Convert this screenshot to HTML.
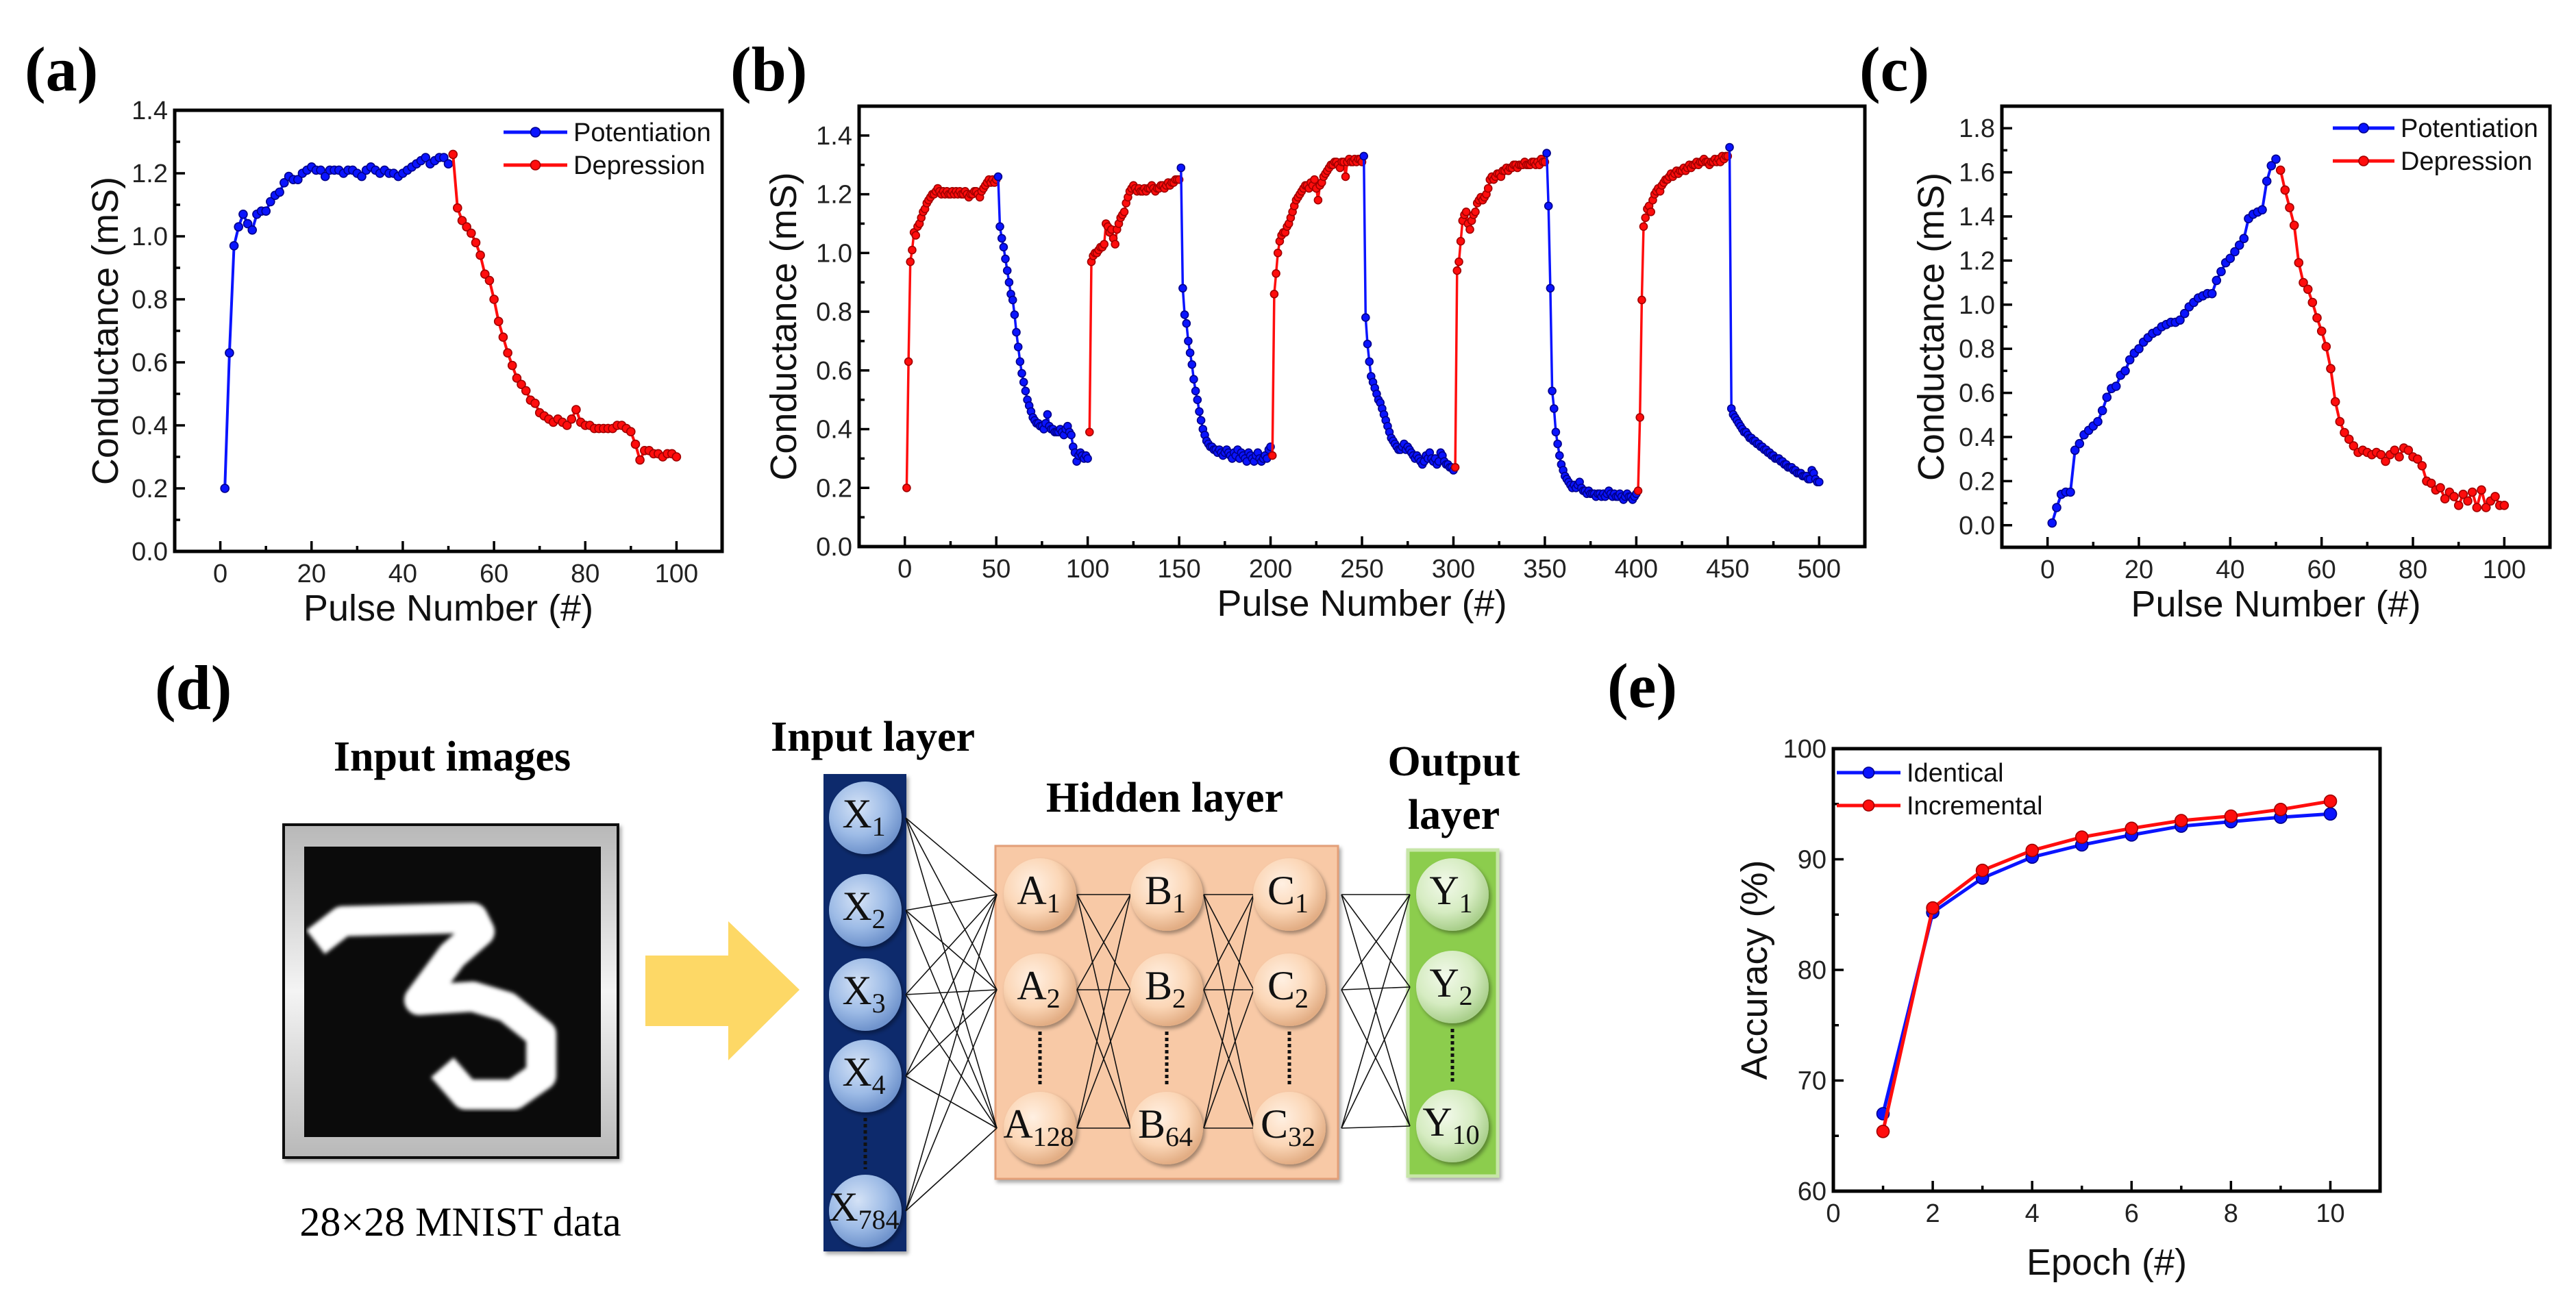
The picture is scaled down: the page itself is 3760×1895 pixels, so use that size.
<!DOCTYPE html>
<html><head><meta charset="utf-8"><title>Conductance and accuracy figure</title>
<style>
html,body{margin:0;padding:0;background:#fff;}
svg{display:block;}
</style></head>
<body>
<svg id="fig" xmlns="http://www.w3.org/2000/svg" width="3760" height="1895" viewBox="0 0 3760 1895">
<defs>
  <radialGradient id="gX" cx="40%" cy="35%" r="65%"><stop offset="0" stop-color="#d4e2f6"/><stop offset="0.6" stop-color="#9dbbe6"/><stop offset="1" stop-color="#6f93cc"/></radialGradient>
  <radialGradient id="gA" cx="40%" cy="35%" r="65%"><stop offset="0" stop-color="#fff0e2"/><stop offset="0.6" stop-color="#fbd6b6"/><stop offset="1" stop-color="#e2ad84"/></radialGradient>
  <radialGradient id="gY" cx="40%" cy="35%" r="65%"><stop offset="0" stop-color="#f2f9ea"/><stop offset="0.6" stop-color="#d6ecc2"/><stop offset="1" stop-color="#a9cf8b"/></radialGradient>
  <filter id="sh" x="-20%" y="-20%" width="150%" height="150%"><feDropShadow dx="3" dy="4" stdDeviation="3" flood-color="#000" flood-opacity="0.35"/></filter>
  <filter id="bl"><feGaussianBlur stdDeviation="3"/></filter>
  <linearGradient id="gFrame" x1="0" y1="0" x2="0" y2="1"><stop offset="0" stop-color="#b8b8b8"/><stop offset="0.5" stop-color="#f4f4f4"/><stop offset="1" stop-color="#b8b8b8"/></linearGradient>
</defs>
<rect x="0" y="0" width="3760" height="1895" fill="#fff"/>

<g font-family="Liberation Serif, serif" font-weight="bold" font-size="92" fill="#000">
  <text x="36" y="132">(a)</text>
  <text x="1066" y="132">(b)</text>
  <text x="2714" y="132">(c)</text>
  <text x="226" y="1035">(d)</text>
  <text x="2346" y="1032">(e)</text>
</g>

<g id="panelD">
  <text x="660" y="1125" text-anchor="middle" font-family="Liberation Serif, serif" font-weight="bold" font-size="62">Input images</text>
  <g>
    <rect x="414" y="1204" width="488" height="486" fill="url(#gFrame)" stroke="#111" stroke-width="4" filter="url(#sh)"/>
    <rect x="444" y="1236" width="433" height="424" fill="#0b0b0b"/>
    <g filter="url(#bl)">
      <path d="M478,1362 L500,1345 L690,1340 L700,1360 L660,1395 L612,1460 L690,1455 L740,1470 L790,1510 L790,1570 L750,1598 L680,1598 L660,1575" fill="none" stroke="#fff" stroke-width="44" stroke-linejoin="round" stroke-linecap="square"/>
    </g>
  </g>
  <text x="672" y="1804" text-anchor="middle" font-family="Liberation Serif, serif" font-size="60">28×28 MNIST data</text>
  <polygon points="942,1395 1063,1395 1063,1345 1167,1445 1063,1548 1063,1498 942,1498" fill="#fdd866"/>

  <text x="1274" y="1096" text-anchor="middle" font-family="Liberation Serif, serif" font-weight="bold" font-size="62">Input layer</text>
  <text x="1700" y="1185" text-anchor="middle" font-family="Liberation Serif, serif" font-weight="bold" font-size="62">Hidden layer</text>
  <text x="2122" y="1132" text-anchor="middle" font-family="Liberation Serif, serif" font-weight="bold" font-size="62">Output</text>
  <text x="2122" y="1210" text-anchor="middle" font-family="Liberation Serif, serif" font-weight="bold" font-size="62">layer</text>

  <rect x="1202" y="1130" width="121" height="697" fill="#0c2a6c" filter="url(#sh)"/>
  <rect x="1453" y="1235" width="500" height="486" fill="#f8c9a6" stroke="#e39f78" stroke-width="3" filter="url(#sh)"/>
  <rect x="2055" y="1241" width="131" height="476" fill="#8ccd4e" stroke="#c7e6a8" stroke-width="5" filter="url(#sh)"/>
  <g id="links" stroke="#111" stroke-width="1.6"></g>
  <g id="nodes"></g>
</g>

<g id="charts"></g>
</svg>

<script>
const aPotX = Array.from({length:50},(_,i)=>i+1);
const aPot = [0.20,0.63,0.97,1.03,1.07,1.04,1.02,1.07,1.08,1.08,1.11,1.13,1.14,1.17,1.19,1.18,1.18,1.20,1.21,1.22,1.21,1.21,1.19,1.21,1.21,1.21,1.20,1.21,1.21,1.20,1.19,1.21,1.22,1.21,1.20,1.21,1.20,1.20,1.19,1.20,1.21,1.22,1.23,1.24,1.25,1.23,1.24,1.25,1.25,1.23];
const aDepX = Array.from({length:50},(_,i)=>i+51);
const aDep = [1.26,1.09,1.05,1.03,1.01,0.98,0.94,0.88,0.86,0.80,0.73,0.68,0.63,0.59,0.55,0.53,0.51,0.48,0.47,0.44,0.43,0.42,0.41,0.42,0.41,0.40,0.42,0.45,0.41,0.40,0.40,0.39,0.39,0.39,0.39,0.39,0.40,0.40,0.39,0.38,0.34,0.29,0.32,0.32,0.31,0.31,0.30,0.31,0.31,0.30];

const cPot = [0.01,0.08,0.14,0.15,0.15,0.34,0.37,0.41,0.43,0.45,0.47,0.52,0.58,0.62,0.63,0.68,0.70,0.75,0.78,0.80,0.83,0.85,0.87,0.88,0.90,0.91,0.92,0.92,0.93,0.96,0.99,1.01,1.03,1.04,1.05,1.05,1.11,1.15,1.19,1.21,1.24,1.27,1.30,1.39,1.41,1.42,1.43,1.56,1.63,1.66];
const cDep = [1.61,1.52,1.44,1.36,1.19,1.10,1.07,1.01,0.94,0.88,0.81,0.71,0.56,0.47,0.42,0.39,0.36,0.33,0.34,0.33,0.32,0.33,0.32,0.29,0.32,0.34,0.31,0.35,0.34,0.31,0.30,0.27,0.20,0.19,0.16,0.17,0.12,0.15,0.13,0.09,0.14,0.11,0.15,0.08,0.16,0.08,0.11,0.13,0.09,0.09];

const bSeg0 = [0.20,0.63,0.97,1.01,1.07,1.06,1.09,1.10,1.12,1.14,1.15,1.17,1.18,1.19,1.20,1.20,1.21,1.22,1.21,1.20,1.21,1.20,1.21,1.20,1.20,1.21,1.20,1.21,1.20,1.21,1.20,1.20,1.21,1.20,1.19,1.20,1.20,1.21,1.21,1.20,1.19,1.21,1.22,1.23,1.24,1.25,1.24,1.25,1.24,1.25];
const bSeg1 = [1.26,1.09,1.05,1.02,0.98,0.94,0.90,0.86,0.84,0.79,0.73,0.68,0.63,0.59,0.56,0.53,0.50,0.48,0.46,0.44,0.43,0.42,0.42,0.41,0.41,0.40,0.42,0.45,0.41,0.40,0.40,0.39,0.39,0.39,0.40,0.39,0.38,0.40,0.41,0.39,0.38,0.34,0.32,0.29,0.31,0.32,0.31,0.30,0.31,0.30];
const bSeg2 = [0.39,0.97,0.99,1.00,1.00,1.01,1.02,1.02,1.03,1.10,1.09,1.07,1.08,1.05,1.03,1.08,1.10,1.12,1.13,1.14,1.17,1.19,1.21,1.22,1.23,1.22,1.21,1.22,1.21,1.21,1.22,1.21,1.22,1.22,1.23,1.22,1.21,1.22,1.22,1.23,1.23,1.22,1.23,1.24,1.23,1.24,1.24,1.25,1.25,1.25];
const bSeg3 = [1.29,0.88,0.79,0.76,0.70,0.66,0.62,0.57,0.53,0.50,0.46,0.43,0.40,0.38,0.36,0.35,0.34,0.34,0.33,0.33,0.32,0.33,0.32,0.31,0.32,0.33,0.32,0.31,0.30,0.32,0.31,0.33,0.30,0.32,0.31,0.30,0.29,0.32,0.31,0.30,0.29,0.31,0.32,0.30,0.29,0.30,0.31,0.30,0.33,0.34];
const bSeg4 = [0.31,0.86,0.93,1.00,1.04,1.06,1.07,1.07,1.09,1.10,1.12,1.14,1.16,1.18,1.19,1.20,1.21,1.22,1.23,1.23,1.22,1.24,1.23,1.25,1.22,1.18,1.23,1.24,1.26,1.27,1.28,1.29,1.30,1.30,1.31,1.31,1.30,1.29,1.31,1.31,1.26,1.31,1.32,1.31,1.31,1.32,1.31,1.32,1.32,1.31];
const bSeg5 = [1.33,0.78,0.69,0.63,0.58,0.56,0.54,0.52,0.50,0.49,0.47,0.45,0.43,0.41,0.39,0.37,0.36,0.35,0.34,0.33,0.33,0.34,0.35,0.33,0.34,0.33,0.32,0.31,0.30,0.31,0.30,0.29,0.28,0.29,0.31,0.30,0.32,0.30,0.29,0.30,0.28,0.29,0.32,0.31,0.29,0.28,0.28,0.27,0.27,0.26];
const bSeg6 = [0.27,0.94,0.97,1.04,1.11,1.13,1.14,1.10,1.08,1.11,1.13,1.14,1.17,1.18,1.19,1.18,1.19,1.20,1.22,1.25,1.26,1.25,1.26,1.27,1.27,1.26,1.28,1.28,1.29,1.28,1.29,1.29,1.30,1.30,1.29,1.30,1.30,1.30,1.31,1.30,1.30,1.30,1.31,1.31,1.30,1.31,1.30,1.32,1.31,1.31];
const bSeg7 = [1.34,1.16,0.88,0.53,0.47,0.39,0.35,0.31,0.28,0.26,0.24,0.23,0.22,0.21,0.20,0.21,0.20,0.21,0.22,0.20,0.19,0.19,0.18,0.19,0.18,0.18,0.18,0.17,0.18,0.18,0.17,0.18,0.17,0.18,0.19,0.18,0.17,0.18,0.17,0.17,0.18,0.17,0.16,0.17,0.18,0.17,0.17,0.16,0.17,0.18];
const bSeg8 = [0.19,0.44,0.84,1.09,1.12,1.15,1.16,1.14,1.18,1.20,1.21,1.22,1.21,1.23,1.24,1.25,1.25,1.26,1.27,1.26,1.27,1.28,1.27,1.28,1.28,1.29,1.28,1.29,1.30,1.29,1.30,1.30,1.31,1.30,1.31,1.31,1.32,1.31,1.31,1.30,1.31,1.31,1.32,1.31,1.32,1.31,1.33,1.32,1.33,1.33];
const bSeg9 = [1.36,0.47,0.45,0.44,0.43,0.42,0.41,0.40,0.39,0.39,0.38,0.37,0.37,0.36,0.36,0.35,0.35,0.34,0.34,0.33,0.33,0.32,0.32,0.31,0.31,0.30,0.30,0.30,0.29,0.29,0.28,0.28,0.27,0.27,0.27,0.26,0.26,0.25,0.25,0.25,0.24,0.24,0.24,0.23,0.23,0.26,0.25,0.23,0.22,0.22];

const eEpochs = [1,2,3,4,5,6,7,8,9,10];
const eIdentical = [67.0,85.2,88.3,90.2,91.3,92.2,93.0,93.4,93.8,94.1];
const eIncremental = [65.4,85.6,89.0,90.8,92.0,92.8,93.5,93.9,94.5,95.25];

const condTicks = [0,0.2,0.4,0.6,0.8,1.0,1.2,1.4];
const condTicksC = [0,0.2,0.4,0.6,0.8,1.0,1.2,1.4,1.6,1.8];
const pulseTicks100 = [0,20,40,60,80,100];
const pulseTicks500 = [0,50,100,150,200,250,300,350,400,450,500];
const accTicks = [60,70,80,90,100];
const epochTicks = [0,2,4,6,8,10];

const NS='http://www.w3.org/2000/svg';
const root=document.getElementById('charts');
function mk(tag,parent){const e=document.createElementNS(NS,tag);parent.appendChild(e);return e;}

function panel(p){
  const g=mk('g',root);
  
  
  const sx=v=>p.L+(v-p.x0)/(p.x1-p.x0)*(p.R-p.L);
  const sy=v=>p.B-(v-p.y0)/(p.y1-p.y0)*(p.B-p.T);
  const box=mk('rect',g);
  box.setAttribute('x',p.L);box.setAttribute('y',p.T);box.setAttribute('width',p.R-p.L);box.setAttribute('height',p.B-p.T);
  box.setAttribute('fill','none');box.setAttribute('stroke','#000');box.setAttribute('stroke-width','5');
  
  
  const tk=mk('g',g);
  tk.setAttribute('stroke','#000');tk.setAttribute('stroke-width','3.5');
  
  
  const addLine=(x1,y1,x2,y2)=>{const l=mk('line',tk);l.setAttribute('x1',x1);l.setAttribute('y1',y1);l.setAttribute('x2',x2);l.setAttribute('y2',y2);return l;};
  p.xt.forEach((v,i)=>{
    addLine(sx(v),p.B,sx(v),p.B-15);
    const t=mk('text',g);
    t.setAttribute('x',sx(v));t.setAttribute('y',p.B+45);t.setAttribute('text-anchor','middle');
    t.setAttribute('font-family','Liberation Sans, Arial, sans-serif');t.setAttribute('font-size','38');t.setAttribute('fill','#222');
    
    
    t.textContent=p.xfmt(v);
    if(i<p.xt.length-1){const m=(v+p.xt[i+1])/2;addLine(sx(m),p.B,sx(m),p.B-8);}
  });
  p.yt.forEach((v,i)=>{
    addLine(p.L,sy(v),p.L+15,sy(v));
    const t=mk('text',g);
    t.setAttribute('x',p.L-10);t.setAttribute('y',sy(v)+13);t.setAttribute('text-anchor','end');
    t.setAttribute('font-family','Liberation Sans, Arial, sans-serif');t.setAttribute('font-size','38');t.setAttribute('fill','#222');
    
    
    t.textContent=p.yfmt(v);
    if(i<p.yt.length-1){const m=(v+p.yt[i+1])/2;addLine(p.L,sy(m),p.L+8,sy(m));}
  });
  const xt=mk('text',g);
  xt.setAttribute('x',(p.L+p.R)/2);xt.setAttribute('y',p.B+p.xtOff);xt.setAttribute('text-anchor','middle');
  xt.setAttribute('font-family','Liberation Sans, Arial, sans-serif');xt.setAttribute('font-size','54');xt.setAttribute('fill','#111');
  
  
  xt.textContent=p.xtitle;
  const yt=mk('text',g);
  const cx=p.L-p.ytOff, cy=(p.T+p.B)/2;
  yt.setAttribute('x',cx);yt.setAttribute('y',cy+19);yt.setAttribute('text-anchor','middle');
  yt.setAttribute('transform','rotate(-90 '+cx+' '+cy+')');
  yt.setAttribute('font-family','Liberation Sans, Arial, sans-serif');yt.setAttribute('font-size','54');yt.setAttribute('fill','#111');
  
  
  yt.textContent=p.ytitle;
  return {g,sx,sy};
}

function series(ax,xs,ys,color,dark,name,r,lw){
  const sg=mk('g',ax.g);
  
  
  const pl=mk('polyline',sg);
  pl.setAttribute('points',xs.map((x,i)=>ax.sx(x).toFixed(1)+','+ax.sy(ys[i]).toFixed(1)).join(' '));
  pl.setAttribute('fill','none');pl.setAttribute('stroke',color);pl.setAttribute('stroke-width',lw);pl.setAttribute('stroke-linejoin','round');
  
  
  xs.forEach((x,i)=>{
    const c=mk('circle',sg);
    c.setAttribute('cx',ax.sx(x).toFixed(1));c.setAttribute('cy',ax.sy(ys[i]).toFixed(1));c.setAttribute('r',r);
    c.setAttribute('fill',color);c.setAttribute('stroke',dark);c.setAttribute('stroke-width','1.6');
    
    
  });
}

function legend(ax,x1,x2,y,color,dark,label,r){
  const lg=mk('g',ax.g);
  
  
  const l=mk('line',lg);
  l.setAttribute('x1',x1);l.setAttribute('x2',x2);l.setAttribute('y1',y);l.setAttribute('y2',y);
  l.setAttribute('stroke',color);l.setAttribute('stroke-width','5');
  const c=mk('circle',lg);
  c.setAttribute('cx',(x1+x2)/2);c.setAttribute('cy',y);c.setAttribute('r',r);c.setAttribute('fill',color);c.setAttribute('stroke',dark);c.setAttribute('stroke-width','1.6');
  const t=mk('text',lg);
  t.setAttribute('x',x2+9);t.setAttribute('y',y+13);
  t.setAttribute('font-family','Liberation Sans, Arial, sans-serif');t.setAttribute('font-size','38');t.setAttribute('fill','#111');
  t.textContent=label;
}

const f1=v=>v.toFixed(1), f0=v=>String(v);
const BLUE='#0a14ff', BDARK='#00008a', RED='#ff0d0d', RDARK='#a00000';

const axA=panel({name:'panel-a-chart',L:255,R:1054,T:161,B:805,x0:-10,x1:110,y0:0,y1:1.4,xt:pulseTicks100,yt:condTicks,xfmt:f0,yfmt:f1,xtitle:'Pulse Number (#)',ytitle:'Conductance (mS)',xtOff:101,ytOff:102});
series(axA,aPotX,aPot,BLUE,BDARK,'a-potentiation',6,4);
series(axA,aDepX,aDep,RED,RDARK,'a-depression',6,4);
legend(axA,735,828,193,BLUE,BDARK,'Potentiation',7);
legend(axA,735,828,241,RED,RDARK,'Depression',7);

const axB=panel({name:'panel-b-chart',L:1254,R:2722,T:155,B:798,x0:-25,x1:525,y0:0,y1:1.5,xt:pulseTicks500,yt:condTicks,xfmt:f0,yfmt:f1,xtitle:'Pulse Number (#)',ytitle:'Conductance (mS)',xtOff:101,ytOff:111});
const bSegs=[bSeg0,bSeg1,bSeg2,bSeg3,bSeg4,bSeg5,bSeg6,bSeg7,bSeg8,bSeg9];
bSegs.forEach((seg,k)=>{
  const xs=seg.map((_,i)=>k*50+i+1);
  if(k%2===0) series(axB,xs,seg,RED,RDARK,'b-potentiation-'+(k/2+1),5.5,3.5);
  else series(axB,xs,seg,BLUE,BDARK,'b-depression-'+((k+1)/2),5.5,3.5);
});

const axC=panel({name:'panel-c-chart',L:2922,R:3722,T:155,B:799,x0:-10,x1:110,y0:-0.1,y1:1.9,xt:pulseTicks100,yt:condTicksC,xfmt:f0,yfmt:f1,xtitle:'Pulse Number (#)',ytitle:'Conductance (mS)',xtOff:101,ytOff:104});
series(axC,aPotX,cPot,BLUE,BDARK,'c-potentiation',6,4);
series(axC,aDepX,cDep,RED,RDARK,'c-depression',6,4);
legend(axC,3405,3495,187,BLUE,BDARK,'Potentiation',7);
legend(axC,3405,3495,235,RED,RDARK,'Depression',7);

const axE=panel({name:'panel-e-chart',L:2676,R:3474,T:1093,B:1739,x0:0,x1:11,y0:60,y1:100,xt:epochTicks,yt:accTicks,xfmt:f0,yfmt:f0,xtitle:'Epoch (#)',ytitle:'Accuracy (%)',xtOff:122,ytOff:116});
series(axE,eEpochs,eIdentical,BLUE,BDARK,'e-identical',9,5);
series(axE,eEpochs,eIncremental,RED,RDARK,'e-incremental',9,5);
legend(axE,2681,2774,1128,BLUE,BDARK,'Identical',8);
legend(axE,2681,2774,1176,RED,RDARK,'Incremental',8);

const links=document.getElementById('links');
const nodesG=document.getElementById('nodes');
const R=53;
const xNodes=[['X','1',1194],['X','2',1329],['X','3',1452],['X','4',1571],['X','784',1768]];
const aNodes=[['A','1',1306],['A','2',1445],['A','128',1647]];
const bNodes=[['B','1',1306],['B','2',1445],['B','64',1647]];
const cNodes=[['C','1',1306],['C','2',1445],['C','32',1647]];
const yNodes=[['Y','1',1306],['Y','2',1441],['Y','10',1644]];
function connect(from,fx,to,tx){
  from.forEach(f=>to.forEach(t=>{
    const l=mk('line',links);
    l.setAttribute('x1',fx);l.setAttribute('y1',f[2]);l.setAttribute('x2',tx);l.setAttribute('y2',t[2]);
    
    
  }));
}
connect(xNodes,1322,aNodes,1455);
connect(aNodes,1572,bNodes,1650);
connect(bNodes,1757,cNodes,1830);
connect(cNodes,1958,yNodes,2058);
function drawNodes(list,cx,grad,name){
  list.forEach(n=>{
    const c=mk('circle',nodesG);
    c.setAttribute('cx',cx);c.setAttribute('cy',n[2]);c.setAttribute('r',R);c.setAttribute('fill',grad);c.setAttribute('filter','url(#sh)');
    
    
    const t=mk('text',nodesG);
    t.setAttribute('x',cx-2);t.setAttribute('y',n[2]+14);t.setAttribute('text-anchor','middle');
    t.setAttribute('font-family','Liberation Serif, serif');t.setAttribute('font-size','60');t.setAttribute('fill','#111');
    
    
    t.appendChild(document.createTextNode(n[0]));
    const s=mk('tspan',t);
    s.setAttribute('font-size','40');s.setAttribute('dy','12');
    s.textContent=n[1];
  });
  const last=list[list.length-1][2], prev=list[list.length-2][2];
  const d=mk('line',nodesG);
  d.setAttribute('x1',cx);d.setAttribute('x2',cx);d.setAttribute('y1',prev+R+8);d.setAttribute('y2',last-R-8);
  d.setAttribute('stroke','#111');d.setAttribute('stroke-width','5');d.setAttribute('stroke-dasharray','5 4');
  
  
}
drawNodes(xNodes,1263,'url(#gX)','input');
drawNodes(aNodes,1518,'url(#gA)','hidden-a');
drawNodes(bNodes,1703,'url(#gA)','hidden-b');
drawNodes(cNodes,1882,'url(#gA)','hidden-c');
drawNodes(yNodes,2120,'url(#gY)','output');
</script>
</body></html>
